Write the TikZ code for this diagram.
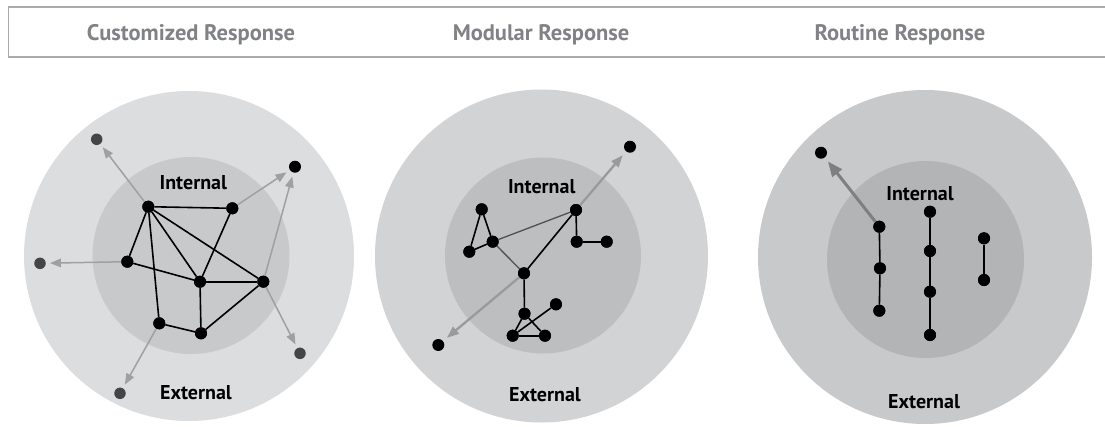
\documentclass[tikz,border=0pt]{standalone}
\usepackage{fontspec}
\usetikzlibrary{arrows.meta}
\newfontfamily\titlefont{PT Sans}
\newfontfamily\labfont{PT Sans}
\definecolor{oneout}{HTML}{DCDDDF}
\definecolor{onein}{HTML}{C8C9CB}
\definecolor{twoout}{HTML}{D2D3D5}
\definecolor{twoin}{HTML}{BDBEC0}
\definecolor{threeout}{HTML}{C8C9CB}
\definecolor{threein}{HTML}{B3B4B6}
\definecolor{titlegray}{HTML}{808285}
\definecolor{boxgray}{HTML}{AAAAAA}
\definecolor{arrA}{HTML}{A0A0A0}
\definecolor{arrB}{HTML}{9A9A9A}
\definecolor{arrC}{HTML}{7F7F7F}
\definecolor{dotgray}{HTML}{454545}
\definecolor{thinline}{HTML}{505050}
\tikzset{
  dot/.style={circle, fill=black, inner sep=0pt, minimum size=12pt},
  gdot/.style={circle, fill=dotgray, inner sep=0pt, minimum size=11.5pt},
  edge/.style={line width=1.6pt, black},
  thinedge/.style={line width=1.3pt, thinline},
  arrowone/.style={line width=1.5pt, arrA, -{Triangle[length=11pt,width=8.5pt]}, shorten >=4pt},
  arrowtwo/.style={line width=2.3pt, arrB, -{Triangle[length=12pt,width=9pt]}, shorten >=5pt},
  arrowthree/.style={line width=3pt, arrC, -{Triangle[length=15pt,width=12pt]}, shorten >=5pt},
  titletext/.style={font=\titlefont\bfseries\fontsize{22.5}{22.5}\selectfont, text=titlegray},
  labtext/.style={font=\labfont\bfseries\fontsize{20}{20}\selectfont, text=black},
}
\begin{document}
\begin{tikzpicture}[x=1pt,y=-1pt]
\useasboundingbox (0,0) rectangle (1105,426);
% header
\draw[boxgray, line width=1.3pt] (1106,7) -- (8.5,7) -- (8.5,57) -- (1106,57);
\node[titletext] (t1) at (191,35) {Customized Response};
\node[titletext] (t2) at (541,35) {Modular Response};
\node[titletext] (t3) at (900,35) {Routine Response};

% circles
\fill[oneout] (189,256) circle (165);
\fill[onein] (191,255.5) circle (98.5);
\fill[twoout] (541.5,256) circle (166.5);
\fill[twoin] (543,255.5) circle (98);
\fill[threeout] (925,257) circle (167);
\fill[threein] (925.5,259.5) circle (98.5);

% ---------- circle 1 ----------
\node[dot] (A) at (148.3,206.7) {};
\node[dot] (B) at (232.3,208.3) {};
\node[dot] (C) at (127.3,261.7) {};
\node[dot] (D) at (200,281.7) {};
\node[dot] (E) at (263.3,281.7) {};
\node[dot] (F) at (159.3,323.3) {};
\node[dot] (G) at (201,333.3) {};
\node[gdot] (O1) at (96.7,139.3) {};
\node[dot] (O2) at (295,166.7) {};
\node[gdot] (O3) at (40,263.3) {};
\node[gdot] (O4) at (300,353.3) {};
\node[gdot] (O5) at (120,393.3) {};
\draw[arrowone] (A) -- (O1);
\draw[arrowone] (B) -- (O2);
\draw[arrowone] (E) -- (O2);
\draw[arrowone] (C) -- (O3);
\draw[arrowone] (E) -- (O4);
\draw[arrowone] (F) -- (O5);
\draw[edge] (A) -- (B);
\draw[edge] (A) -- (C);
\draw[edge] (A) -- (D);
\draw[edge] (A) -- (E);
\draw[edge] (A) -- (F);
\draw[edge] (B) -- (D);
\draw[edge] (C) -- (D);
\draw[edge] (D) -- (E);
\draw[edge] (D) -- (G);
\draw[edge] (E) -- (G);
\draw[edge] (F) -- (G);
\foreach \n in {A,B,C,D,E,F,G} \node[dot] at (\n) {};
\node[labtext] (int1) at (193.3,182.7) {Internal};
\node[labtext] (ext1) at (196,392.7) {External};

% ---------- circle 2 ----------
\node[dot] (P1) at (481.7,209.3) {};
\node[dot] (P2) at (469.3,251.7) {};
\node[dot] (P3) at (492.7,241.7) {};
\node[dot] (Q) at (576,210) {};
\node[dot] (Q2) at (576.7,241.7) {};
\node[dot] (Q3) at (606.7,241.7) {};
\node[dot] (M) at (524,273.3) {};
\node[dot] (R1) at (524.5,313.7) {};
\node[dot] (R2) at (556,304.3) {};
\node[dot] (R3) at (512.7,335.7) {};
\node[dot] (R4) at (545,335.7) {};
\node[dot] (X1) at (630,146.7) {};
\node[dot] (X2) at (438.3,345) {};
\draw[arrowtwo] (M) -- (X2);
\draw[arrowtwo] (Q) -- (X1);
\draw[thinedge] (P3) -- (Q);
\draw[thinedge] (P3) -- (M);
\draw[edge] (P1) -- (P2);
\draw[edge] (P1) -- (P3);
\draw[edge] (P2) -- (P3);
\draw[edge] (Q) -- (M);
\draw[edge] (Q) -- (Q2);
\draw[edge] (Q2) -- (Q3);
\draw[edge] (M) -- (R1);
\draw[edge] (R1) -- (R3);
\draw[edge] (R1) -- (R4);
\draw[edge] (R3) -- (R2);
\draw[edge] (R3) -- (R4);
\foreach \n in {P1,P2,P3,Q,Q2,Q3,M,R1,R2,R3,R4} \node[dot] at (\n) {};
\node[labtext] (int2) at (541.7,186.7) {Internal};
\node[labtext] (ext2) at (545,395) {External};

% ---------- circle 3 ----------
\node[dot] (L1) at (879.3,226.7) {};
\node[dot] (L2) at (880,268.3) {};
\node[dot] (L3) at (879.3,310.7) {};
\node[dot] (M1) at (930,211.7) {};
\node[dot] (M2) at (930,251) {};
\node[dot] (M3) at (930,291.7) {};
\node[dot] (M4) at (930,335) {};
\node[dot] (N1) at (984,238.3) {};
\node[dot] (N2) at (984,280) {};
\node[dot] (Y) at (821,152.7) {};
\draw[arrowthree] (L1) -- (Y);
\draw[edge] (L1) -- (L2);
\draw[edge] (L2) -- (L3);
\draw[edge] (M1) -- (M2);
\draw[edge] (M2) -- (M3);
\draw[edge] (M3) -- (M4);
\draw[edge] (N1) -- (N2);
\foreach \n in {L1,L2,L3,M1,M2,M3,M4,N1,N2} \node[dot] at (\n) {};
\node[labtext] (int3) at (920,193.3) {Internal};
\node[labtext] (ext3) at (924,401.7) {External};
\end{tikzpicture}
\end{document}
